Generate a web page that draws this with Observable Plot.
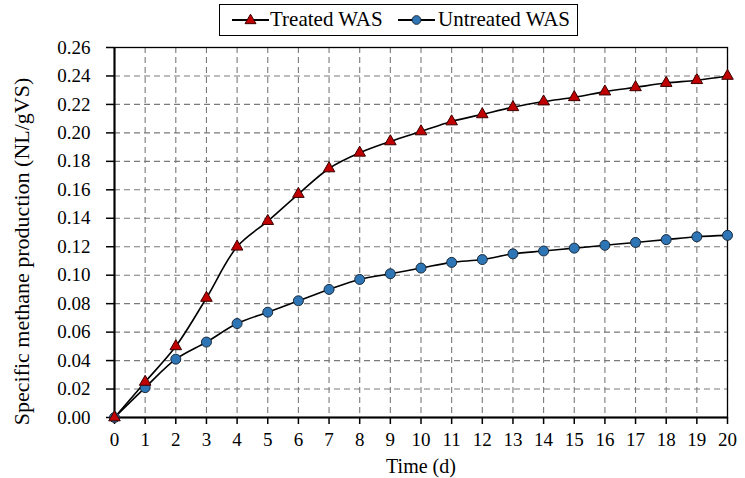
<!DOCTYPE html>
<html>
<head>
<meta charset="utf-8">
<script src="https://cdn.jsdelivr.net/npm/d3@7"></script>
<script src="https://cdn.jsdelivr.net/npm/@observablehq/plot@0.6"></script>
<style>
  html, body { margin: 0; padding: 0; background: #fff; }
  #wrap { position: relative; width: 745px; height: 478px; font-family: 'Liberation Serif', serif; }
  #wrap svg text { font-family: 'Liberation Serif', serif; }
  #legend { position: absolute; left: 219px; top: 4px; width: 359px; height: 32px; border: 1.5px solid #000; background: #fff;
            box-sizing: border-box; font-size: 21px; color: #000; }
  #legend .sw { position: absolute; top: 5px; }
  #legend .lbl { position: absolute; top: 2px; line-height: 24px; white-space: nowrap; }
</style>
</head>
<body>
<div id="wrap">
  <div id="chart"></div>
  <div id="legend"></div>
</div>
<script>
const days = d3.range(0, 21);
const treated = [0, 0.025, 0.050, 0.084, 0.120, 0.138, 0.157, 0.175, 0.186, 0.194, 0.201, 0.208, 0.213, 0.218, 0.222, 0.225, 0.229, 0.232, 0.235, 0.237, 0.240];
const untreated = [0, 0.021, 0.041, 0.053, 0.066, 0.074, 0.082, 0.090, 0.097, 0.101, 0.105, 0.109, 0.111, 0.115, 0.117, 0.119, 0.121, 0.123, 0.125, 0.127, 0.128];
const yTicks = d3.range(0, 14).map(i => +(i * 0.02).toFixed(2));
const seriesNames = ["Treated WAS", "Untreated WAS"];
const xLabel = "Time (d)";
const yLabel = "Specific methane production (NL/gVS)";

const tData = days.map((d, i) => ({day: d, value: treated[i]}));
const uData = days.map((d, i) => ({day: d, value: untreated[i]}));

const red = "#c00000";
const blue = "#2e75b6";
const serif = "'Liberation Serif', serif";

const plot = Plot.plot({
  width: 745,
  height: 478,
  marginTop: 47,
  marginBottom: 61,
  marginLeft: 114,
  marginRight: 18,
  style: {fontFamily: serif, fontSize: "19px", color: "#000", background: "#fff", overflow: "visible"},
  x: {domain: [0, 20]},
  y: {domain: [0, 0.26]},
  marks: [
    Plot.gridX(days, {stroke: "#7a7a7a", strokeOpacity: 1, strokeDasharray: "6,4", strokeWidth: 1.1}),
    Plot.gridY(yTicks, {stroke: "#7a7a7a", strokeOpacity: 1, strokeDasharray: "6,4", strokeWidth: 1.1}),
    Plot.frame({stroke: "#000", strokeWidth: 1.3}),
    Plot.axisX(days, {tickSize: 7, tickPadding: 8, label: null, tickFormat: d => String(d), fontSize: 19, fontFamily: serif, strokeWidth: 1.5}),
    Plot.axisY(yTicks, {tickSize: 8, tickPadding: 16, label: null, tickFormat: d3.format(".2f"), fontSize: 19, fontFamily: serif, strokeWidth: 1.5}),
    Plot.ruleX([0], {stroke: "#000", strokeWidth: 2}),
    Plot.ruleY([0], {stroke: "#000", strokeWidth: 2}),
    Plot.line(tData, {x: "day", y: "value", curve: "catmull-rom", stroke: "#000", strokeWidth: 1.6}),
    Plot.line(uData, {x: "day", y: "value", curve: "catmull-rom", stroke: "#000", strokeWidth: 1.6}),
    Plot.dot(uData, {x: "day", y: "value", symbol: "circle", r: 5, fill: blue, stroke: "#1a2a3a", strokeWidth: 1}),
    Plot.dot(tData, {x: "day", y: "value", symbol: "triangle", r: 4.3, fill: red, stroke: "#3a0000", strokeWidth: 1}),
    Plot.text([xLabel], {frameAnchor: "bottom", dy: 49, text: d => d, fontSize: 20, fontFamily: serif, lineAnchor: "middle", textAnchor: "middle"}),
    Plot.text([yLabel], {frameAnchor: "left", dx: -93, dy: 19, rotate: -90, text: d => d, fontSize: 22, fontFamily: serif, textAnchor: "middle", lineAnchor: "middle"})
  ]
});
document.getElementById("chart").appendChild(plot);

// Legend
const legend = document.getElementById("legend");
const markers = [
  {name: seriesNames[0], fill: red, stroke: "#3a0000", shape: "triangle", swX: 12, lblX: 50},
  {name: seriesNames[1], fill: blue, stroke: "#1a2a3a", shape: "circle", swX: 178, lblX: 218}
];
const ns = "http://www.w3.org/2000/svg";
for (const m of markers) {
  const svg = document.createElementNS(ns, "svg");
  svg.setAttribute("class", "sw");
  svg.setAttribute("width", 38); svg.setAttribute("height", 20);
  svg.style.left = m.swX + "px";
  const line = document.createElementNS(ns, "line");
  line.setAttribute("x1", 0); line.setAttribute("x2", 37); line.setAttribute("y1", 10); line.setAttribute("y2", 10);
  line.setAttribute("stroke", "#000"); line.setAttribute("stroke-width", 2);
  svg.appendChild(line);
  const sym = d3.symbol(m.shape === "circle" ? d3.symbolCircle : d3.symbolTriangle, m.shape === "circle" ? 60 : 52)();
  const p = document.createElementNS(ns, "path");
  p.setAttribute("d", sym);
  p.setAttribute("transform", m.shape === "circle" ? "translate(18.5,10)" : "translate(18.5,10.5)");
  p.setAttribute("fill", m.fill); p.setAttribute("stroke", m.stroke); p.setAttribute("stroke-width", 1);
  svg.appendChild(p);
  legend.appendChild(svg);
  const span = document.createElement("span");
  span.className = "lbl";
  span.style.left = m.lblX + "px";
  span.textContent = m.name;
  legend.appendChild(span);
}
</script>
</body>
</html>
